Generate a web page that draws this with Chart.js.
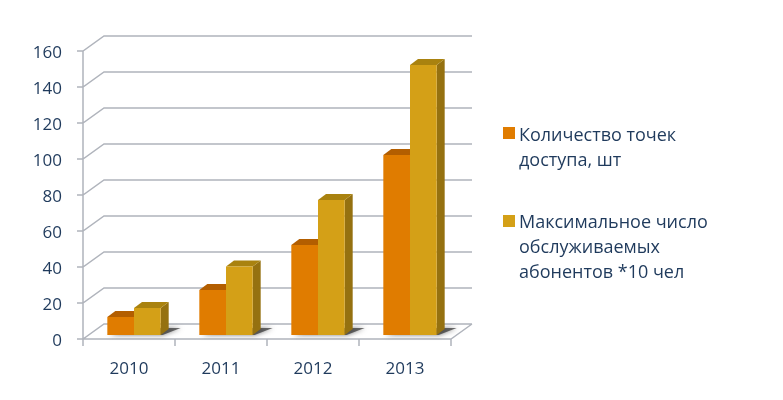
<!DOCTYPE html>
<html>
<head>
<meta charset="utf-8">
<script src="https://cdn.jsdelivr.net/npm/chart.js@4/dist/chart.umd.min.js"></script>
<style>
  body { margin: 0; background: #fff; }
  #wrap { position: relative; width: 783px; height: 400px; }
  .legend-item { position: absolute; left: 503px; font-family: "Open Sans", sans-serif; font-size: 18px; line-height: 25px; color: #1F3A5C; }
  .legend-item span.box { position: absolute; left: 0; width: 12px; height: 12px; }
  .legend-item div.txt { position: absolute; left: 16px; white-space: nowrap; }
</style>
</head>
<body>
<div id="wrap">
  <canvas id="grafico"></canvas>
  <div class="legend-item" style="top:122px">
    <span class="box" style="top:5px;background:#E07C00"></span>
    <div class="txt">Количество точек<br>доступа, шт</div>
  </div>
  <div class="legend-item" style="top:209px">
    <span class="box" style="top:6px;background:#D4A017"></span>
    <div class="txt">Максимальное число<br>обслуживаемых<br>абонентов *10 чел</div>
  </div>
</div>
<script>
const categories = ['2010', '2011', '2012', '2013'];
const accessPoints = [10, 25, 50, 100];
const subscribers = [15, 38, 75, 150];
const yMin = 0;
const yMax = 160;
const yStep = 20;

// сдвиги для псевдо-3D
const FRONT = { x: -5, y: 4 };
const BACK = { x: 16, y: -11 };
const BAR_DEPTH = { x: 8, y: -6 };
const sideColors = [
    { top: '#B35E00', side: '#A05200' },
    { top: '#A9820F', side: '#957110' }
];

const frame3d = {
    id: 'frame3d',
    beforeDatasetsDraw(chart) {
        const ctx = chart.ctx;
        const a = chart.chartArea;
        const y = chart.scales.y;
        const y0 = y.getPixelForValue(yMin);
        const yTop = y.getPixelForValue(yMax);

        ctx.save();
        ctx.strokeStyle = '#B0B4BC';
        ctx.lineWidth = 1.5;
        ctx.beginPath();
        y.ticks.forEach(function(t) {
            const yp = y.getPixelForValue(t.value);
            ctx.moveTo(a.left + FRONT.x - 6, yp + FRONT.y);
            ctx.lineTo(a.left + FRONT.x, yp + FRONT.y);
            ctx.lineTo(a.left + BACK.x, yp + BACK.y);
            ctx.lineTo(a.right + BACK.x, yp + BACK.y);
        });
        // пол
        ctx.moveTo(a.left + FRONT.x, y0 + FRONT.y);
        ctx.lineTo(a.right + FRONT.x, y0 + FRONT.y);
        ctx.lineTo(a.right + BACK.x, y0 + BACK.y);
        // ось
        ctx.moveTo(a.left + FRONT.x, yTop + FRONT.y);
        ctx.lineTo(a.left + FRONT.x, y0 + FRONT.y);
        const step = a.width / categories.length;
        for (let i = 0; i <= categories.length; i++) {
            const px = a.left + FRONT.x + i * step;
            ctx.moveTo(px, y0 + FRONT.y);
            ctx.lineTo(px, y0 + FRONT.y + 7);
        }
        ctx.stroke();

        // тени на полу
        const m0 = chart.getDatasetMeta(0);
        const m1 = chart.getDatasetMeta(1);
        ctx.fillStyle = 'rgba(50,50,50,0.7)';
        ctx.shadowColor = 'rgba(50,50,50,0.9)';
        ctx.shadowBlur = 5;
        m0.data.forEach(function(bar, i) {
            const b2 = m1.data[i];
            const l = bar.x - bar.width / 2;
            const r = b2.x + b2.width / 2;
            ctx.beginPath();
            ctx.moveTo(l + 2, bar.base);
            ctx.lineTo(r + 2, bar.base);
            ctx.lineTo(r + BAR_DEPTH.x + 12, bar.base + BAR_DEPTH.y - 1);
            ctx.lineTo(l + BAR_DEPTH.x + 10, bar.base + BAR_DEPTH.y - 1);
            ctx.closePath();
            ctx.fill();
        });
        ctx.shadowBlur = 0;
        ctx.shadowColor = 'transparent';

        // боковые и верхние грани
        m0.data.forEach(function(bar, i) {
            [m0.data[i], m1.data[i]].forEach(function(el, k) {
                const l = el.x - el.width / 2;
                const r = el.x + el.width / 2;
                ctx.fillStyle = sideColors[k].side;
                ctx.beginPath();
                ctx.moveTo(r, el.y);
                ctx.lineTo(r + BAR_DEPTH.x, el.y + BAR_DEPTH.y);
                ctx.lineTo(r + BAR_DEPTH.x, el.base + BAR_DEPTH.y);
                ctx.lineTo(r, el.base);
                ctx.closePath();
                ctx.fill();
                ctx.fillStyle = sideColors[k].top;
                ctx.beginPath();
                ctx.moveTo(l, el.y);
                ctx.lineTo(r, el.y);
                ctx.lineTo(r + BAR_DEPTH.x, el.y + BAR_DEPTH.y);
                ctx.lineTo(l + BAR_DEPTH.x, el.y + BAR_DEPTH.y);
                ctx.closePath();
                ctx.fill();
            });
        });
        ctx.restore();
    }
};

const ctx = document.getElementById('grafico').getContext('2d');
const grafico = new Chart(ctx, {
    type: 'bar',
    data: {
        labels: categories,
        datasets: [{
            label: 'Количество точек доступа, шт',
            data: accessPoints,
            backgroundColor: '#E07C00'
        }, {
            label: 'Максимальное число обслуживаемых абонентов *10 чел',
            data: subscribers,
            backgroundColor: '#D4A017'
        }]
    },
    options: {
        responsive: true,
        maintainAspectRatio: false,
        animation: false,
        categoryPercentage: 0.58,
        barPercentage: 1.0,
        layout: { padding: { top: 47, right: 327, left: 0, bottom: 0 } },
        plugins: {
            legend: { display: false },
            tooltip: { enabled: false }
        },
        scales: {
            x: {
                grid: { display: false, drawTicks: false },
                border: { display: false },
                ticks: {
                    color: '#1F3A5C',
                    font: { family: 'Open Sans', size: 17 },
                    padding: 24,
                    labelOffset: -5
                },
                afterFit: function(scale) { scale.height = 65; }
            },
            y: {
                min: yMin,
                max: yMax,
                grid: { display: false, drawTicks: false },
                border: { display: false },
                ticks: {
                    stepSize: yStep,
                    color: '#1F3A5C',
                    font: { family: 'Open Sans', size: 17 },
                    padding: 26,
                    labelOffset: 6
                },
                afterFit: function(scale) { scale.width = 88; }
            }
        }
    },
    plugins: [frame3d]
});
</script>
</body>
</html>
